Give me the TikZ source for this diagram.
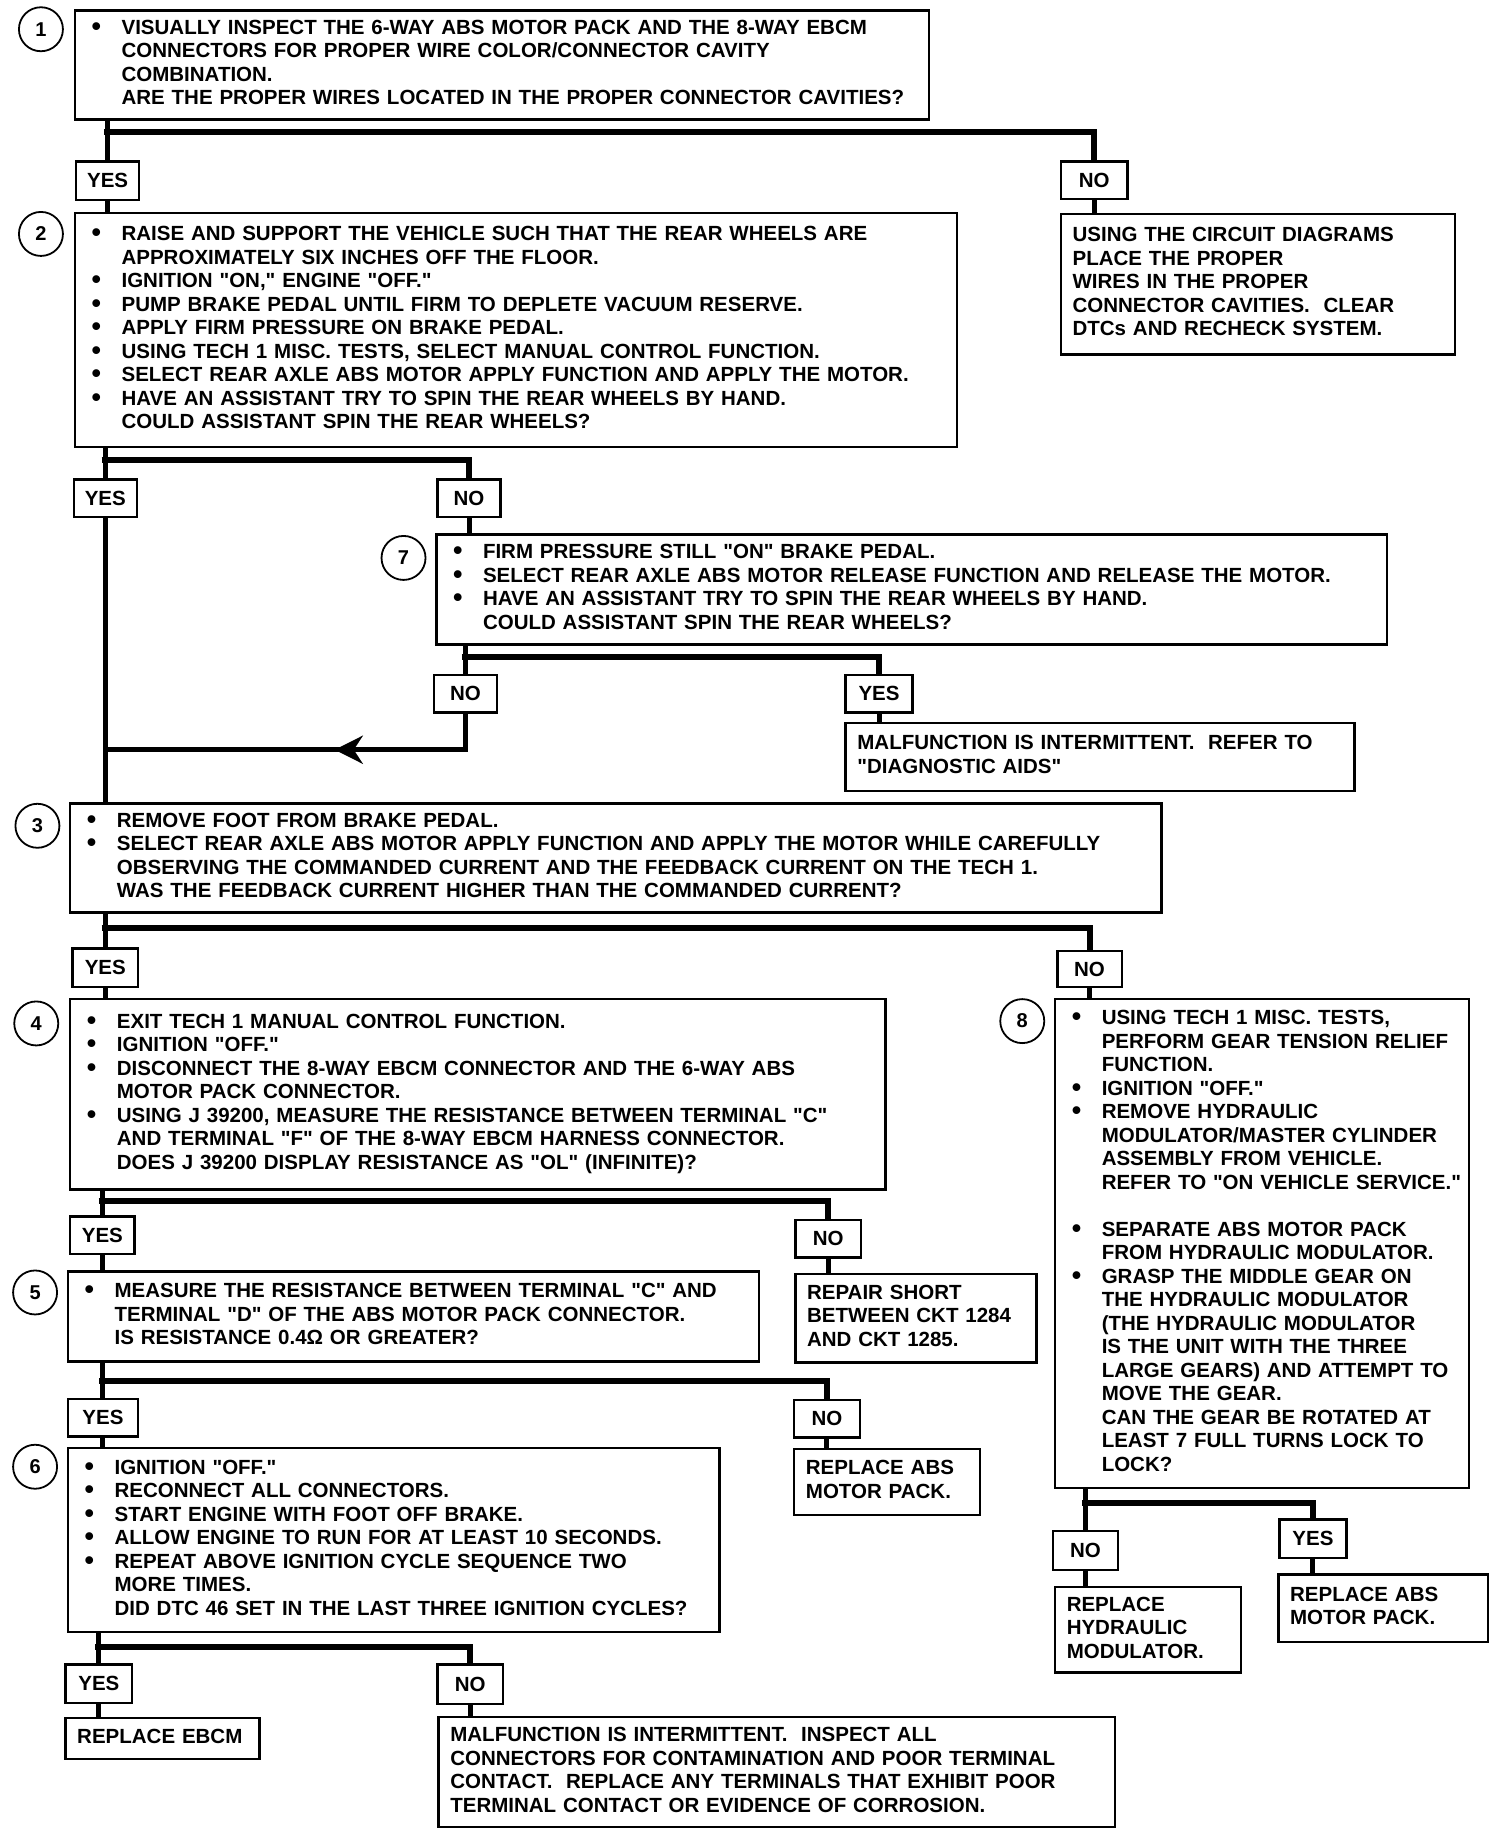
\documentclass[tikz,border=0pt]{standalone}
\usepackage{fontspec}
\setmainfont{Liberation Sans}[Ligatures=TeXOff]
\usetikzlibrary{arrows.meta,decorations.markings}
\newcommand\bu{\makebox[35pt][l]{\hspace{5pt}\raisebox{-1pt}{\fontsize{27pt}{27pt}\selectfont•}}}
\newcommand\tb[1]{\begin{tabular}{@{}l@{}l@{}}#1\end{tabular}}
\newcommand\tr[1]{\begin{tabular}{@{}l@{}}#1\end{tabular}}
\tikzset{
 box/.style n args={4}{draw, line width=2.4pt, inner xsep=11.7pt, inner ysep=0pt, anchor=north west, at={(#1,#2)}, minimum height={(#4-#2)*1.1695pt}, text width={(#3-#1)*1.1695pt-23.4pt}, align=left},
 lab/.style n args={4}{draw, line width=2.4pt, inner sep=0pt, anchor=north west, at={(#1,#2)}, minimum width={(#3-#1)*1.1695pt}, minimum height={(#4-#2)*1.1695pt}, align=center},
 num/.style={circle, draw, line width=1.8pt, minimum size=44pt, inner sep=0pt, font=\fontsize{20pt}{20pt}\selectfont\bfseries},
 conn/.style={line width=5pt},
 bar/.style={line width=6pt, line join=miter},
 arrowmark/.style={postaction={decorate}, decoration={markings, mark=at position 0.42 with {\arrow{Stealth[length=28pt,width=28pt,inset=9pt]}}}},
}
\begin{document}
\begin{tikzpicture}[x=1.1695pt,y=-1.1695pt,font=\fontsize{20.5pt}{23.5pt}\selectfont\bfseries]
\fill[white] (0,0) rectangle (1286,1568);
\useasboundingbox (0,0) rectangle (1286,1568);

% ---- step 1
\node[num] (c1) at (35,25) {1};
\node[box={63}{8}{793}{101}] (b1) {\tb{\bu & VISUALLY INSPECT THE 6-WAY ABS MOTOR PACK AND THE 8-WAY EBCM\\
 & CONNECTORS FOR PROPER WIRE COLOR/CONNECTOR CAVITY\\
 & COMBINATION.\\
 & ARE THE PROPER WIRES LOCATED IN THE PROPER CONNECTOR CAVITIES?}};
\node[lab={64}{137}{118}{170}] (yes1) {YES};
\node[lab={906}{137}{963}{169}] (no1) {NO};
\node[box={906}{182}{1243}{302}] (r1) {\tr{USING THE CIRCUIT DIAGRAMS\\PLACE THE PROPER\\WIRES IN THE PROPER\\CONNECTOR CAVITIES.\ \ CLEAR\\DTCs AND RECHECK SYSTEM.}};

% ---- step 2
\node[num] (c2) at (35,200) {2};
\node[box={63}{181}{817}{381}] (b2) {\tb{\bu & RAISE AND SUPPORT THE VEHICLE SUCH THAT THE REAR WHEELS ARE\\
 & APPROXIMATELY SIX INCHES OFF THE FLOOR.\\
\bu & IGNITION "ON," ENGINE "OFF."\\
\bu & PUMP BRAKE PEDAL UNTIL FIRM TO DEPLETE VACUUM RESERVE.\\
\bu & APPLY FIRM PRESSURE ON BRAKE PEDAL.\\
\bu & USING TECH 1 MISC. TESTS, SELECT MANUAL CONTROL FUNCTION.\\
\bu & SELECT REAR AXLE ABS MOTOR APPLY FUNCTION AND APPLY THE MOTOR.\\
\bu & HAVE AN ASSISTANT TRY TO SPIN THE REAR WHEELS BY HAND.\\
 & COULD ASSISTANT SPIN THE REAR WHEELS?}};
\node[lab={62}{409}{116}{441}] (yes2) {YES};
\node[lab={373}{409}{427}{441}] (no2) {NO};

% ---- step 7
\node[num] (c7) at (345,477) {7};
\node[box={372}{456}{1185}{550}] (b7) {\tb{\bu & FIRM PRESSURE STILL "ON" BRAKE PEDAL.\\
\bu & SELECT REAR AXLE ABS MOTOR RELEASE FUNCTION AND RELEASE THE MOTOR.\\
\bu & HAVE AN ASSISTANT TRY TO SPIN THE REAR WHEELS BY HAND.\\
 & COULD ASSISTANT SPIN THE REAR WHEELS?}};
\node[lab={370}{576}{424}{608}] (no7) {NO};
\node[lab={722}{576}{779}{608}] (yes7) {YES};
\node[box={722}{617}{1157}{675}] (r7) {\tr{MALFUNCTION IS INTERMITTENT.\ \ REFER TO\\"DIAGNOSTIC AIDS"}};

% ---- step 3
\node[num] (c3) at (32,706) {3};
\node[box={59}{686}{992}{779}] (b3) {\tb{\bu & REMOVE FOOT FROM BRAKE PEDAL.\\
\bu & SELECT REAR AXLE ABS MOTOR APPLY FUNCTION AND APPLY THE MOTOR WHILE CAREFULLY\\
 & OBSERVING THE COMMANDED CURRENT AND THE FEEDBACK CURRENT ON THE TECH 1.\\
 & WAS THE FEEDBACK CURRENT HIGHER THAN THE COMMANDED CURRENT?}};
\node[lab={61}{810}{117}{843}] (yes3) {YES};
\node[lab={903}{812}{958}{843}] (no3) {NO};

% ---- step 4
\node[num] (c4) at (31,875) {4};
\node[box={59}{853}{756}{1016}] (b4) {\tb{\bu & EXIT TECH 1 MANUAL CONTROL FUNCTION.\\
\bu & IGNITION "OFF."\\
\bu & DISCONNECT THE 8-WAY EBCM CONNECTOR AND THE 6-WAY ABS\\
 & MOTOR PACK CONNECTOR.\\
\bu & USING J 39200, MEASURE THE RESISTANCE BETWEEN TERMINAL "C"\\
 & AND TERMINAL "F" OF THE 8-WAY EBCM HARNESS CONNECTOR.\\
 & DOES J 39200 DISPLAY RESISTANCE AS "OL" (INFINITE)?}};
\node[lab={59}{1039}{114}{1071}] (yes4) {YES};
\node[lab={679}{1042}{735}{1074}] (no4) {NO};
\node[box={679}{1088}{885}{1164}] (r4) {\tr{REPAIR SHORT\\BETWEEN CKT 1284\\AND CKT 1285.}};

% ---- step 8
\node[num] (c8) at (874,873) {8};
\node[box={901}{853}{1255}{1271}] (b8) {\tb{\bu & USING TECH 1 MISC. TESTS,\\
 & PERFORM GEAR TENSION RELIEF\\
 & FUNCTION.\\
\bu & IGNITION "OFF."\\
\bu & REMOVE HYDRAULIC\\
 & MODULATOR/MASTER CYLINDER\\
 & ASSEMBLY FROM VEHICLE.\\
 & REFER TO "ON VEHICLE SERVICE."\\
 & \\
\bu & SEPARATE ABS MOTOR PACK\\
 & FROM HYDRAULIC MODULATOR.\\
\bu & GRASP THE MIDDLE GEAR ON\\
 & THE HYDRAULIC MODULATOR\\
 & (THE HYDRAULIC MODULATOR\\
 & IS THE UNIT WITH THE THREE\\
 & LARGE GEARS) AND ATTEMPT TO\\
 & MOVE THE GEAR.\\
 & CAN THE GEAR BE ROTATED AT\\
 & LEAST 7 FULL TURNS LOCK TO\\
 & LOCK?}};
\node[lab={899}{1308}{955}{1341}] (no8) {NO};
\node[lab={1093}{1298}{1150}{1331}] (yes8) {YES};
\node[box={901}{1356}{1060}{1429}] (r8n) {\tr{REPLACE\\HYDRAULIC\\MODULATOR.}};
\node[box={1092}{1345}{1271}{1403}] (r8y) {\tr{REPLACE ABS\\MOTOR PACK.}};

% ---- step 5
\node[num] (c5) at (30,1105) {5};
\node[box={57}{1086}{648}{1163}] (b5) {\tb{\bu & MEASURE THE RESISTANCE BETWEEN TERMINAL "C" AND\\
 & TERMINAL "D" OF THE ABS MOTOR PACK CONNECTOR.\\
 & IS RESISTANCE 0.4Ω OR GREATER?}};
\node[lab={57}{1195}{117}{1227}] (yes5) {YES};
\node[lab={678}{1196}{734}{1228}] (no5) {NO};
\node[box={678}{1238}{837}{1294}] (r5) {\tr{REPLACE ABS\\MOTOR PACK.}};

% ---- step 6
\node[num] (c6) at (30,1254) {6};
\node[box={57}{1237}{614}{1394}] (b6) {\tb{\bu & IGNITION "OFF."\\
\bu & RECONNECT ALL CONNECTORS.\\
\bu & START ENGINE WITH FOOT OFF BRAKE.\\
\bu & ALLOW ENGINE TO RUN FOR AT LEAST 10 SECONDS.\\
\bu & REPEAT ABOVE IGNITION CYCLE SEQUENCE TWO\\
 & MORE TIMES.\\
 & DID DTC 46 SET IN THE LAST THREE IGNITION CYCLES?}};
\node[lab={55}{1422}{112}{1455}] (yes6) {YES};
\node[lab={373}{1422}{429}{1456}] (no6) {NO};
\node[box={55}{1468}{221}{1503}] (r6y) {\tr{REPLACE EBCM}};
\node[box={374}{1467}{952}{1561}] (r6n) {\tr{MALFUNCTION IS INTERMITTENT.\ \ INSPECT ALL\\CONNECTORS FOR CONTAMINATION AND POOR TERMINAL\\CONTACT.\ \ REPLACE ANY TERMINALS THAT EXHIBIT POOR\\TERMINAL CONTACT OR EVIDENCE OF CORROSION.}};

% ---- connectors
% 1
\coordinate (j1) at (91,113);
\draw[conn] (b1.south -| yes1) -- (yes1.north);
\draw[bar] ([xshift=-2.5pt]j1) -| (no1.north);
\draw[conn] (no1.south) -- (r1.north -| no1.south);
\draw[conn] (yes1.south) -- (b2.north -| yes1.south);
% 2
\coordinate (j2) at (89,393);
\draw[conn] (b2.south -| yes2) -- (yes2.north);
\draw[bar] ([xshift=-2.5pt]j2) -| (no2.north);
\draw[conn] (no2.south) -- (b7.north -| no2.south);
\draw[conn] (yes2.south) -- (b3.north -| yes2.south);
% 7
\coordinate (j7) at (397,562);
\draw[conn] (b7.south -| no7) -- (no7.north);
\draw[bar] ([xshift=-2.5pt]j7) -| (yes7.north);
\draw[conn] (yes7.south) -- (r7.north -| yes7.south);
\coordinate (a7) at (89,641);
\draw[conn,line join=miter,arrowmark] (no7.south) |- (a7);
% 3
\coordinate (j3) at (89,793);
\draw[conn] (b3.south -| yes3) -- (yes3.north);
\draw[bar] ([xshift=-2.5pt]j3) -| (no3.north);
\draw[conn] (no3.south) -- (b8.north -| no3.south);
\draw[conn] (yes3.south) -- (b4.north -| yes3.south);
% 4
\coordinate (j4) at (86.5,1027);
\draw[conn] (b4.south -| yes4) -- (yes4.north);
\draw[bar] ([xshift=-2.5pt]j4) -| (no4.north);
\draw[conn] (no4.south) -- (r4.north -| no4.south);
\draw[conn] (yes4.south) -- (b5.north -| yes4.south);
% 5
\coordinate (j5) at (87,1181);
\draw[conn] (b5.south -| yes5) -- (yes5.north);
\draw[bar] ([xshift=-2.5pt]j5) -| (no5.north);
\draw[conn] (no5.south) -- (r5.north -| no5.south);
\draw[conn] (yes5.south) -- (b6.north -| yes5.south);
% 8
\coordinate (j8) at (927,1285);
\draw[conn] (b8.south -| no8) -- (no8.north);
\draw[bar] ([xshift=-2.5pt]j8) -| (yes8.north);
\draw[conn] (no8.south) -- (r8n.north -| no8.south);
\draw[conn] (yes8.south) -- (r8y.north -| yes8.south);
% 6
\coordinate (j6) at (83.5,1408);
\draw[conn] (b6.south -| yes6) -- (yes6.north);
\draw[bar] ([xshift=-2.5pt]j6) -| (no6.north);
\draw[conn] (yes6.south) -- (r6y.north -| yes6.south);
\draw[conn] (no6.south) -- (r6n.north -| no6.south);
\end{tikzpicture}
\end{document}
